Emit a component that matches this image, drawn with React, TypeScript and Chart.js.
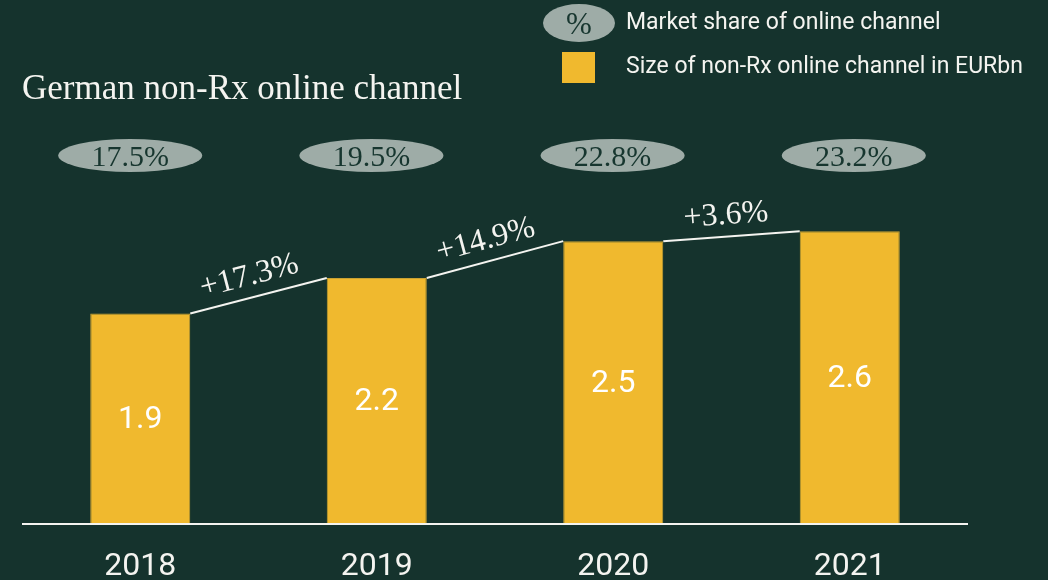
import React, { useEffect, useRef } from "react";
import { Chart, registerables } from "chart.js";

Chart.register(...registerables);

const years = ["2018", "2019", "2020", "2021"];
const sizeEURbn = [1.88, 2.2, 2.53, 2.62];
const onlineShare = ["17.5%", "19.5%", "22.8%", "23.2%"];
const growthLabels = ["+17.3%", "+14.9%", "+3.6%"];
const titleText = "German non-Rx online channel";
const legendShare = "Market share of online channel";
const legendSize = "Size of non-Rx online channel in EURbn";

const BG = "#15332d";
const GOLD = "#f0b92e";
const PILL = "#9eaca7";
const PILL_TEXT = "#17362f";
const WHITE = "#f4f4f0";
const SERIF = "'Liberation Serif', 'Times New Roman', serif";
const SANS = "Roboto, 'Liberation Sans', Arial, sans-serif";

const overlay = {
  id: "overlay",
  beforeDraw(chart: any) {
    const ctx = chart.ctx;
    ctx.save();
    ctx.fillStyle = BG;
    ctx.fillRect(0, 0, chart.width, chart.height);
    ctx.restore();
  },
  afterDatasetsDraw(chart: any) {
    const ctx = chart.ctx;
    const meta = chart.getDatasetMeta(0);
    const xs = chart.scales.x;
    const ys = chart.scales.y;
    const area = chart.chartArea;
    const bars = meta.data;
    ctx.save();

    // baseline
    const y0 = ys.getPixelForValue(0);
    ctx.strokeStyle = WHITE;
    ctx.lineWidth = 2;
    ctx.beginPath();
    ctx.moveTo(area.left, y0 + 1);
    ctx.lineTo(area.right, y0 + 1);
    ctx.stroke();

    // values inside bars
    ctx.fillStyle = "#ffffff";
    ctx.font = `32px ${SANS}`;
    ctx.textAlign = "center";
    ctx.textBaseline = "middle";
    bars.forEach((b: any, i: number) => {
      ctx.fillText(sizeEURbn[i].toFixed(1), b.x, (b.y + b.base) / 2 + 2);
    });

    // connectors and growth labels
    for (let i = 0; i < bars.length - 1; i++) {
      const a = bars[i];
      const c = bars[i + 1];
      const x1 = a.x + a.width / 2;
      const y1 = a.y;
      const x2 = c.x - c.width / 2;
      const y2 = c.y;
      ctx.strokeStyle = WHITE;
      ctx.lineWidth = 2;
      ctx.beginPath();
      ctx.moveTo(x1, y1);
      ctx.lineTo(x2, y2);
      ctx.stroke();
      const ang = Math.atan2(y2 - y1, x2 - x1);
      const len = Math.hypot(x2 - x1, y2 - y1);
      const ux = (x2 - x1) / len;
      const uy = (y2 - y1) / len;
      const px = uy;
      const py = -ux;
      const mx = (x1 + x2) / 2 + px * 21 - ux * 4;
      const my = (y1 + y2) / 2 + py * 21 - uy * 4;
      ctx.save();
      ctx.translate(mx, my);
      ctx.rotate(ang);
      ctx.fillStyle = WHITE;
      ctx.font = `32px ${SERIF}`;
      ctx.textAlign = "center";
      ctx.textBaseline = "middle";
      ctx.fillText(growthLabels[i], 0, 0);
      ctx.restore();
    }

    // share pills
    bars.forEach((b: any, i: number) => {
      const cx = xs.getPixelForValue(i) + (i - 1.5) * 4.7 - 3;
      const cy = 155.5;
      ctx.fillStyle = PILL;
      ctx.beginPath();
      ctx.ellipse(cx, cy, 72, 16.5, 0, 0, Math.PI * 2);
      ctx.fill();
      ctx.fillStyle = PILL_TEXT;
      ctx.font = `30px ${SERIF}`;
      ctx.textAlign = "center";
      ctx.textBaseline = "alphabetic";
      ctx.fillText(onlineShare[i], cx, 166);
    });

    // year labels
    ctx.fillStyle = WHITE;
    ctx.font = `32px ${SANS}`;
    ctx.textAlign = "center";
    ctx.textBaseline = "alphabetic";
    years.forEach((yr, i) => {
      ctx.fillText(yr, xs.getPixelForValue(i), 575);
    });

    // title
    ctx.textAlign = "left";
    ctx.font = `35px ${SERIF}`;
    ctx.fillText(titleText, 22, 99);

    // legend
    ctx.fillStyle = PILL;
    ctx.beginPath();
    ctx.ellipse(579, 23, 36, 19, 0, 0, Math.PI * 2);
    ctx.fill();
    ctx.fillStyle = PILL_TEXT;
    ctx.font = `31px ${SERIF}`;
    ctx.textAlign = "center";
    ctx.fillText("%", 579, 34);
    ctx.fillStyle = GOLD;
    ctx.fillRect(562, 52, 33, 31);
    ctx.fillStyle = WHITE;
    ctx.font = `23px ${SANS}`;
    ctx.textAlign = "left";
    ctx.fillText(legendShare, 626, 29);
    ctx.fillText(legendSize, 626, 73);

    ctx.restore();
  },
};

export default function App() {
  const ref = useRef<HTMLCanvasElement>(null);
  useEffect(() => {
    if (!ref.current) return;
    const chart = new Chart(ref.current, {
      type: "bar",
      data: {
        labels: years,
        datasets: [
          {
            label: legendSize,
            data: sizeEURbn,
            backgroundColor: GOLD,
            borderColor: "#c9a232",
            borderWidth: 1,
            barPercentage: 0.423,
            categoryPercentage: 1,
          },
        ],
      },
      options: {
        responsive: false,
        animation: false,
        layout: { padding: { top: 523 - 4 * 111.4, bottom: 57, left: 22, right: 80 } },
        plugins: { legend: { display: false }, tooltip: { enabled: false } },
        scales: {
          x: { display: false },
          y: { display: false, min: 0, max: 4 },
        },
      },
      plugins: [overlay],
    });
    return () => chart.destroy();
  }, []);
  return (
    <div style={{ position: "fixed", left: 0, top: 0, width: 1048, height: 580, background: BG }}>
      <canvas ref={ref} width={1048} height={580} />
    </div>
  );
}
